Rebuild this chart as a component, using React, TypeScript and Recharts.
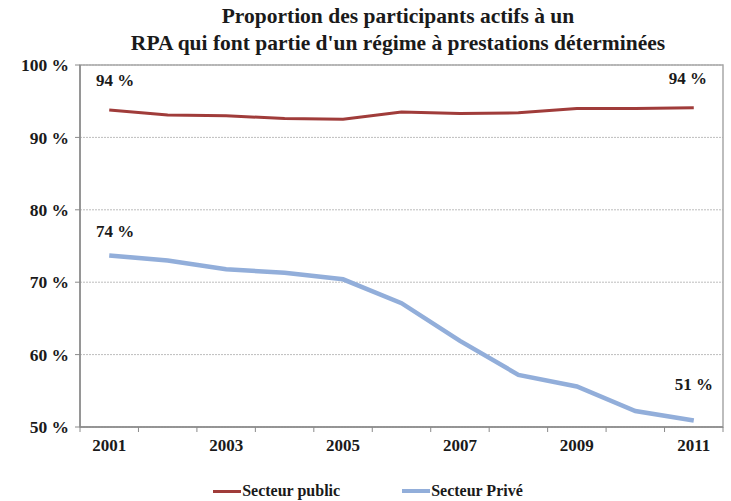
import { LineChart, Line, XAxis, YAxis, CartesianGrid, Legend, ReferenceArea, LabelList } from 'recharts'

const years = [2001, 2002, 2003, 2004, 2005, 2006, 2007, 2008, 2009, 2010, 2011]
const secteurPublic = [93.8, 93.1, 93.0, 92.6, 92.5, 93.5, 93.3, 93.4, 94.0, 94.0, 94.1]
const secteurPrive = [73.7, 73.0, 71.8, 71.3, 70.4, 67.1, 61.9, 57.2, 55.6, 52.2, 50.9]
const yearLabels = [2001, 2003, 2005, 2007, 2009, 2011]
const yTicks = [50, 60, 70, 80, 90, 100]
const endLabelsPublic = ['94 %', '94 %']
const endLabelsPrive = ['74 %', '51 %']

const data = years.map((y, i) => ({ year: y, public: secteurPublic[i], prive: secteurPrive[i] }))

// tick marks sit between categories, labels on odd years
const boundaries = [...years.map((y) => y - 0.5), years[years.length - 1] + 0.5]
const xTicks = [...boundaries, ...yearLabels]

const FONT = '"Liberation Serif", "Times New Roman", serif'
const RED = '#A03C3A'
const BLUE = '#92AEDA'

const XTick = ({ x, y, payload }: any) => {
  const v = payload.value
  if (v % 1 !== 0) {
    return <line x1={x} x2={x} y1={y - 8} y2={y - 3} stroke="#8a8a8a" strokeWidth={1} />
  }
  return (
    <text x={x} y={y + 16} textAnchor="middle" fontFamily={FONT} fontWeight="bold" fontSize={17} fill="#1a1a1a">
      {v}
    </text>
  )
}

const makeEndLabel = (labels: string[], dyStart: number, dyEnd: number, dxEnd: number) => (props: any) => {
  const { x, y, index } = props
  if (index !== 0 && index !== years.length - 1) return null
  const first = index === 0
  return (
    <text
      x={x + (first ? 6 : dxEnd)}
      y={y + (first ? dyStart : dyEnd)}
      textAnchor="middle"
      fontFamily={FONT}
      fontWeight="bold"
      fontSize={17}
      fill="#1a1a1a"
    >
      {first ? labels[0] : labels[1]}
    </text>
  )
}

const LegendContent = () => (
  <div style={{ display: 'flex', justifyContent: 'center', gap: 62, fontFamily: FONT, fontWeight: 'bold', fontSize: 16, color: '#1a1a1a', paddingLeft: 13, paddingTop: 19 }}>
    <div style={{ display: 'flex', alignItems: 'center' }}>
      <span style={{ display: 'inline-block', width: 28, height: 3, background: RED, marginRight: 1 }} />
      Secteur public
    </div>
    <div style={{ display: 'flex', alignItems: 'center' }}>
      <span style={{ display: 'inline-block', width: 28, height: 4, background: BLUE, marginRight: 1 }} />
      Secteur Privé
    </div>
  </div>
)

export default function App() {
  return (
    <div style={{ position: 'absolute', left: 0, top: 0, width: 731, height: 501, background: '#fff' }}>
      <div
        style={{
          position: 'absolute',
          left: 0,
          top: 3,
          width: 731,
          paddingLeft: 65,
          boxSizing: 'border-box',
          textAlign: 'center',
          fontFamily: FONT,
          fontWeight: 'bold',
          fontSize: 21.5,
          lineHeight: '27px',
          color: '#1a1a1a',
        }}
      >
        Proportion des participants actifs à un
        <br />
        RPA qui font partie d'un régime à prestations déterminées
      </div>
      <LineChart width={731} height={501} data={data} margin={{ top: 65, right: 8, left: 0, bottom: 0 }}>
        <CartesianGrid vertical={false} stroke="#bdbdbd" strokeDasharray="2 1" />
        <ReferenceArea x1={2000.5} x2={2011.5} y1={50} y2={100} fill="none" stroke="#a8a8a8" strokeWidth={1.5} ifOverflow="visible" />
        <XAxis
          dataKey="year"
          type="number"
          domain={[2000.5, 2011.5]}
          ticks={xTicks}
          interval={0}
          tick={<XTick />}
          tickLine={false}
          axisLine={{ stroke: '#8a8a8a', strokeWidth: 1.5 }}
          height={36}
        />
        <YAxis
          domain={[50, 100]}
          ticks={yTicks}
          tickFormatter={(v) => `${v} %`}
          width={80}
          tickSize={5}
          tickLine={{ stroke: '#8a8a8a' }}
          axisLine={{ stroke: '#8a8a8a', strokeWidth: 1.5 }}
          tick={{ fontFamily: FONT, fontWeight: 'bold', fontSize: 17.5, fill: '#1a1a1a', dx: -4 }}
        />
        <Legend verticalAlign="bottom" height={38} content={<LegendContent />} />
        <Line
          type="linear"
          dataKey="public"
          name="Secteur public"
          stroke={RED}
          strokeWidth={3}
          dot={false}
          isAnimationActive={false}
        >
          <LabelList dataKey="public" content={makeEndLabel(endLabelsPublic, -24, -24, -6)} />
        </Line>
        <Line
          type="linear"
          dataKey="prive"
          name="Secteur Privé"
          stroke={BLUE}
          strokeWidth={4.5}
          dot={false}
          isAnimationActive={false}
        >
          <LabelList dataKey="prive" content={makeEndLabel(endLabelsPrive, -18, -30, 0)} />
        </Line>
      </LineChart>
    </div>
  )
}
